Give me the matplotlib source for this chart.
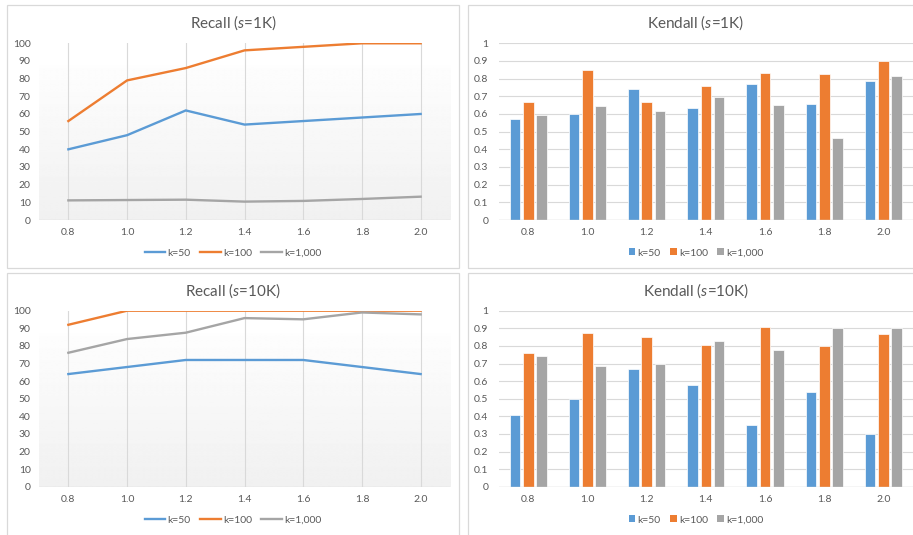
import matplotlib
matplotlib.use("Agg")
import matplotlib.pyplot as plt
import numpy as np
from matplotlib.patches import Rectangle
from matplotlib.lines import Line2D
from matplotlib.patches import Patch

plt.rcParams['font.family'] = ['Lato', 'DejaVu Sans']
plt.rcParams['mathtext.fontset'] = 'custom'
plt.rcParams['mathtext.rm'] = 'Lato'
plt.rcParams['mathtext.it'] = 'Lato:italic'

# data
alphas = ['0.8', '1.0', '1.2', '1.4', '1.6', '1.8', '2.0']
series_names = ['k=50', 'k=100', 'k=1,000']

recall_1k_k50 = [40, 48, 62, 54, 56, 58, 60]
recall_1k_k100 = [56, 79, 86, 96, 98, 100, 100]
recall_1k_k1000 = [11.1, 11.3, 11.5, 10.4, 10.8, 11.9, 13.2]

recall_10k_k50 = [64, 68, 72, 72, 72, 68, 64]
recall_10k_k100 = [92, 100, 100, 100, 100, 100, 100]
recall_10k_k1000 = [76.1, 83.9, 87.5, 95.8, 95.1, 99, 97.9]

kendall_1k_k50 = [0.57, 0.598, 0.742, 0.636, 0.768, 0.658, 0.789]
kendall_1k_k100 = [0.666, 0.851, 0.670, 0.757, 0.830, 0.826, 0.898]
kendall_1k_k1000 = [0.594, 0.643, 0.617, 0.698, 0.653, 0.464, 0.817]

kendall_10k_k50 = [0.407, 0.50, 0.670, 0.580, 0.350, 0.540, 0.301]
kendall_10k_k100 = [0.759, 0.871, 0.850, 0.807, 0.907, 0.799, 0.869]
kendall_10k_k1000 = [0.744, 0.686, 0.699, 0.830, 0.778, 0.900, 0.900]

colors = ['#5B9BD5', '#ED7D31', '#A5A5A5']
txt = '#595959'
grid = '#D9D9D9'

W, H = 913, 535
fig = plt.figure(figsize=(W / 100, H / 100), dpi=100)


def rect(x0, y0, x1, y1):
    return [x0 / W, 1 - y1 / H, (x1 - x0) / W, (y1 - y0) / H]


# panel frames
for (x0, y0, x1, y1) in [(7, 5, 459, 268), (468, 5, 935, 268), (7, 273, 459, 545), (468, 273, 935, 545)]:
    fig.patches.append(Rectangle((x0 / W, 1 - y1 / H), (x1 - x0) / W, (y1 - y0) / H,
                                 transform=fig.transFigure, fill=False, edgecolor=grid, lw=0.9))

x = np.arange(len(alphas))


def line_panel(box, title, ys, tx, ty, ly):
    ax = fig.add_axes(rect(*box))
    # soft background gradient, white near the top, light grey at the bottom
    g = np.linspace(0, 1, 200)
    shade = np.where(g < 0.13, 1.0, 0.993 - 0.05 * (g - 0.13) / 0.87)
    ax.imshow(shade[:, None], extent=(-0.5, 6.5, 0, 100), aspect='auto', cmap='gray',
              vmin=0, vmax=1, zorder=0, interpolation='bilinear')
    for xi in x:
        ax.plot([xi, xi], [0, 100], color=grid, lw=0.8, zorder=1)
    ax.axhline(0, color=grid, lw=1.0, zorder=1)
    for vals, c, n in zip(ys, colors, series_names):
        ax.plot(x, vals, color=c, lw=1.7, label=n, zorder=3, solid_joinstyle='miter')
    ax.set_xlim(-0.5, 6.5)
    ax.set_ylim(0, 100)
    ax.set_yticks(np.arange(0, 101, 10))
    ax.set_xticks(x)
    ax.set_xticklabels(alphas)
    ax.tick_params(axis='y', length=0, pad=6, labelsize=7.5, labelcolor=txt)
    ax.tick_params(axis='x', length=0, pad=6, labelsize=7.5, labelcolor=txt)
    for s in ax.spines.values():
        s.set_visible(False)
    fig.text(tx / W, 1 - ty / H, title, ha='center', va='center', fontsize=11, color=txt)
    handles = [Line2D([0], [0], color=c, lw=1.7) for c in colors]
    fig.legend(handles, series_names, loc='center', bbox_to_anchor=(tx / W, 1 - ly / H),
               ncol=3, frameon=False, fontsize=7.5, labelcolor=txt, handlelength=2.0,
               handletextpad=0.2, columnspacing=0.9)
    return ax


def bar_panel(box, title, ys, tx, ty, ly):
    ax = fig.add_axes(rect(*box))
    ax.set_xlim(-0.5, 6.5)
    ax.set_ylim(0, 1)
    ax.set_yticks(np.arange(0, 1.01, 0.1))
    ax.set_yticklabels(['0', '0.1', '0.2', '0.3', '0.4', '0.5', '0.6', '0.7', '0.8', '0.9', '1'])
    ax.grid(axis='y', color=grid, lw=0.8)
    ax.set_axisbelow(True)
    offs = [-0.225, 0, 0.225]
    for vals, c, o, n in zip(ys, colors, offs, series_names):
        ax.bar(x + o, vals, width=0.18, color=c, edgecolor='white', lw=0.5, label=n, zorder=2)
    ax.axhline(0, color=grid, lw=1.0, zorder=3)
    ax.set_xticks(x)
    ax.set_xticklabels(alphas)
    ax.tick_params(axis='y', length=0, pad=7.5, labelsize=7.5, labelcolor=txt)
    ax.tick_params(axis='x', length=0, pad=6, labelsize=7.5, labelcolor=txt)
    for s in ax.spines.values():
        s.set_visible(False)
    fig.text(tx / W, 1 - ty / H, title, ha='center', va='center', fontsize=11, color=txt)
    handles = [Patch(facecolor=c) for c in colors]
    fig.legend(handles, series_names, loc='center', bbox_to_anchor=(tx / W, 1 - ly / H),
               ncol=3, frameon=False, fontsize=7.5, labelcolor=txt, handlelength=0.65,
               handleheight=0.65, handletextpad=0.2, columnspacing=0.9)
    return ax


line_panel((39, 43.3, 450, 220), 'Recall ($\\it{s}$=1K)',
           [recall_1k_k50, recall_1k_k100, recall_1k_k1000], 233, 22.7, 253)
bar_panel((498.7, 43.3, 913, 220), 'Kendall ($\\it{s}$=1K)',
          [kendall_1k_k50, kendall_1k_k100, kendall_1k_k1000], 696, 22.7, 253)
line_panel((39, 310.7, 450, 486.7), 'Recall ($\\it{s}$=10K)',
           [recall_10k_k50, recall_10k_k100, recall_10k_k1000], 233, 290.7, 520)
bar_panel((498.7, 310.7, 913, 486.7), 'Kendall ($\\it{s}$=10K)',
          [kendall_10k_k50, kendall_10k_k100, kendall_10k_k1000], 696, 290.7, 520)

fig.savefig('out.png', dpi=100, facecolor='white')
